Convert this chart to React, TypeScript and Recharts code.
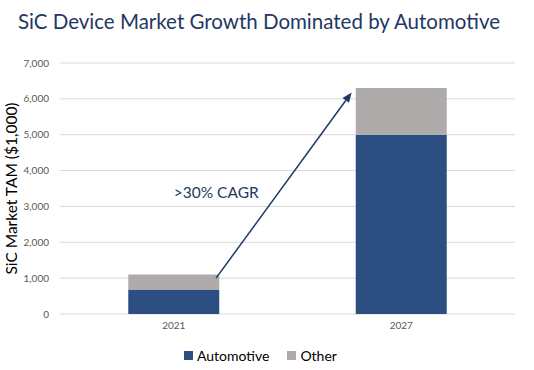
import React from "react";
import { BarChart, Bar, XAxis, YAxis, CartesianGrid, ReferenceLine, ReferenceDot } from "recharts";

const years = ["2021", "2027"];
const automotive = [680, 5000];
const other = [420, 1300];
const yTicks = [0, 1000, 2000, 3000, 4000, 5000, 6000, 7000];
const seriesNames = ["Automotive", "Other"];
const seriesColors = ["#2C4E80", "#AFABAB"];

// arrow from top of 2021 bar to top of 2027 bar, on a hidden 0..1 axis spanning the categories
const arrowFrom = { x: 0.343, y: 1000 };
const arrowTo = { x: 0.641, y: 6180 };
const cagrLabel = ">30% CAGR";
const cagrPos = { x: 0.25, y: 3400 };

const data = years.map((year, i) => ({ year, automotive: automotive[i], other: other[i] }));

const navy = "#1F3864";

const Arrow = (props: any) => {
  const { x1, y1, x2, y2 } = props;
  const ang = Math.atan2(y2 - y1, x2 - x1);
  const len = 10;
  const w = 4;
  const bx = x2 - len * Math.cos(ang);
  const by = y2 - len * Math.sin(ang);
  const px = -Math.sin(ang) * w;
  const py = Math.cos(ang) * w;
  return (
    <g>
      <line x1={x1} y1={y1} x2={bx} y2={by} stroke={navy} strokeWidth={1.5} />
      <polygon points={`${x2},${y2} ${bx + px},${by + py} ${bx - px},${by - py}`} fill={navy} />
    </g>
  );
};

const YLabel = (props: any) => {
  const { viewBox } = props;
  const cy = viewBox.y + viewBox.height / 2;
  const cx = 17;
  return (
    <text x={cx} y={cy} transform={`rotate(-90 ${cx} ${cy})`} textAnchor="middle" fill="#000" fontSize={15.5} fontFamily="Lato">
      SiC Market TAM ($1,000)
    </text>
  );
};

export default function App() {
  return (
    <div style={{ position: "absolute", left: 0, top: 0, width: 534, height: 370, fontFamily: "Lato", background: "#fff" }}>
      <div style={{ position: "absolute", left: 18, top: 9, fontSize: 20.5, color: navy, whiteSpace: "nowrap" }}>
        SiC Device Market Growth Dominated by Automotive
      </div>
      <BarChart width={534} height={370} data={data} margin={{ top: 63, right: 19, bottom: 26, left: 0 }} barCategoryGap="30%">
        <CartesianGrid vertical={false} stroke="#D9D9D9" strokeWidth={1} />
        <XAxis dataKey="year" height={30} axisLine={false} tickLine={false} tickSize={0} tickMargin={8}
          tick={{ fontSize: 10, fill: "#595959", fontFamily: "Lato" }} />
        <XAxis xAxisId="n" type="number" domain={[0, 1]} hide allowDataOverflow />
        <YAxis width={60} domain={[0, 7000]} ticks={yTicks} interval={0} axisLine={false} tickLine={false} tickSize={0} tickMargin={11}
          tickFormatter={(v) => v.toLocaleString("en-US")} tick={{ fontSize: 10, fill: "#595959", fontFamily: "Lato" }}
          label={<YLabel />} />
        <Bar dataKey="automotive" stackId="a" name={seriesNames[0]} fill={seriesColors[0]} isAnimationActive={false} />
        <Bar dataKey="other" stackId="a" name={seriesNames[1]} fill={seriesColors[1]} isAnimationActive={false} />
        <ReferenceLine xAxisId="n" segment={[arrowFrom, arrowTo]} shape={<Arrow />} ifOverflow="visible" />
        <ReferenceDot xAxisId="n" x={cagrPos.x} y={cagrPos.y} r={0} fill="none" stroke="none" ifOverflow="visible"
          label={{ value: cagrLabel, position: "right", offset: 0, fill: navy, fontSize: 15.5, fontFamily: "Lato" }} />
      </BarChart>
      <div style={{ position: "absolute", left: 184, top: 347, display: "flex", alignItems: "center", fontSize: 14, color: "#000" }}>
        {seriesNames.map((n, i) => (
          <div key={n} style={{ display: "flex", alignItems: "center", marginRight: 18 }}>
            <span style={{ display: "inline-block", width: 9, height: 9, background: seriesColors[i], marginRight: 4 }} />
            {n}
          </div>
        ))}
      </div>
    </div>
  );
}
